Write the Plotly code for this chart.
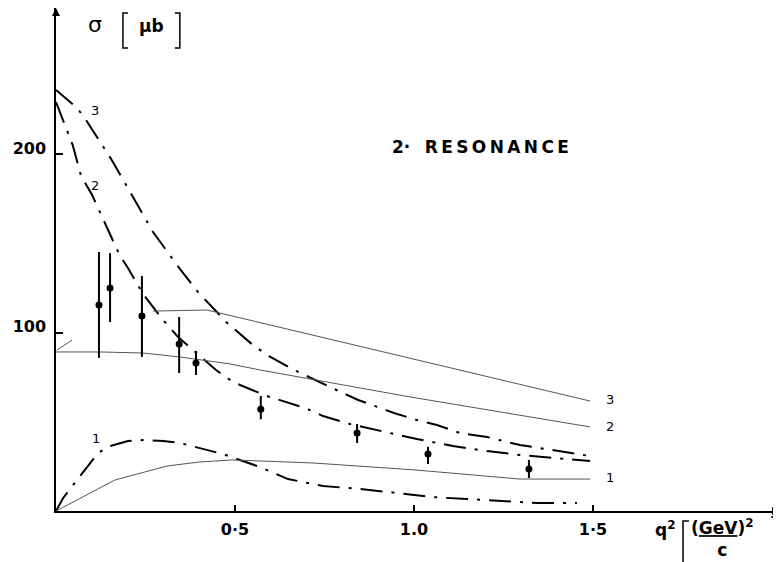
import plotly.graph_objects as go

# ---------------- data ----------------
pts_x = [0.120, 0.151, 0.240, 0.344, 0.391, 0.572, 0.841, 1.039, 1.321]
pts_y = [115.4, 124.9, 109.2, 93.6, 82.9, 57.0, 43.7, 31.9, 23.5]
pts_up = [29.7, 19.6, 22.5, 15.1, 6.7, 7.4, 5.0, 4.0, 5.1]
pts_dn = [29.7, 19.0, 22.9, 16.3, 6.7, 5.6, 5.6, 5.6, 5.0]

c3_x = [0, .059, .084, .154, .204, .271, .346, .399, .444, .475, .550, .595, .659,
        .715, .765, .844, .899, .953, 1.008, 1.064, 1.128, 1.204, 1.249, 1.296, 1.492]
c3_y = [235.9, 225.8, 219.0, 197.2, 179.8, 156.3, 135.6, 122.1, 112.6, 105.9, 93.0, 86.8,
        79.6, 74.5, 69.5, 62.2, 58.3, 54.3, 51.0, 48.2, 43.7, 41.5, 39.2, 37.0, 30.8]

c2_x = [0, .047, .070, .101, .176, .201, .243, .299, .341, .377, .447, .494, .550, .589,
        .696, .746, .821, .919, 1.008, 1.109, 1.204, 1.296, 1.492]
c2_y = [229.1, 204.8, 187.7, 177.0, 144.0, 136.1, 121.6, 107.0, 97.5, 91.3, 79.0, 72.3,
        67.8, 64.4, 57.7, 53.2, 48.7, 44.3, 40.3, 36.4, 33.6, 31.4, 28.0]

c1_x = [0, .020, .089, .117, .151, .201, .249, .299, .346, .402, .466, .570, .648, .746,
        .849, .953, 1.050, 1.148, 1.246, 1.344, 1.455]
c1_y = [0, 7.3, 25.2, 32.5, 36.4, 39.2, 39.8, 39.2, 38.1, 35.3, 31.9, 24.6, 17.9, 14.0,
        12.3, 10.1, 7.8, 6.7, 5.6, 4.5, 4.5]

t3_x = [.271, .422, 1.492]
t3_y = [112.0, 112.6, 61.6]

t2_x = [0, .123, .243, .346, .486, .570, .989, 1.492]
t2_y = [89.1, 89.1, 88.5, 86.3, 82.4, 79.0, 63.9, 47.1]

t2s_x = [0.003, 0.045]
t2s_y = [90.2, 95.8]

t1_x = [0, .165, .310, .402, .494, .718, 1.003, 1.296, 1.492]
t1_y = [0, 17.4, 25.2, 27.5, 28.6, 26.9, 23.0, 17.9, 17.9]

x_tickvals = [0.5, 1.0, 1.5]
x_ticktext = ["0·5", "1.0", "1·5"]
y_tickvals = [100, 200]
y_ticktext = ["100", "200"]

# The page body has an 8px margin, so the figure is sized/positioned to compensate.
X_MAX = 2.0223
Y_MAX = 281.8

DASHDOT = "22px,9px,3px,9px"
THIN = "#555555"

fig = go.Figure()
for xs, ys in [(c3_x, c3_y), (c2_x, c2_y), (c1_x, c1_y)]:
    fig.add_trace(go.Scatter(x=xs, y=ys, mode="lines",
                             line=dict(color="black", width=2, dash=DASHDOT),
                             hoverinfo="skip", showlegend=False))
for xs, ys in [(t3_x, t3_y), (t2_x, t2_y), (t2s_x, t2s_y), (t1_x, t1_y)]:
    fig.add_trace(go.Scatter(x=xs, y=ys, mode="lines",
                             line=dict(color=THIN, width=1),
                             hoverinfo="skip", showlegend=False))
fig.add_trace(go.Scatter(
    x=pts_x, y=pts_y, mode="markers",
    marker=dict(color="black", size=7),
    error_y=dict(type="data", symmetric=False, array=pts_up, arrayminus=pts_dn,
                 color="black", thickness=2, width=0),
    showlegend=False))

# axis arrowheads (tip at the end of each axis)
fig.add_trace(go.Scatter(x=[0], y=[Y_MAX], mode="markers", cliponaxis=False,
                         marker=dict(symbol="arrow-up", size=8, color="black",
                                     line=dict(width=0)),
                         hoverinfo="skip", showlegend=False))
fig.add_trace(go.Scatter(x=[X_MAX], y=[0], mode="markers", cliponaxis=False,
                         marker=dict(symbol="arrow-right", size=8, color="black",
                                     line=dict(width=0)),
                         hoverinfo="skip", showlegend=False))

tickfont = dict(family="DejaVu Sans", size=16, color="black", weight="bold")
fig.update_xaxes(range=[0, X_MAX], showline=True, linecolor="black", linewidth=2,
                 showgrid=False, zeroline=False, ticks="inside", ticklen=6,
                 tickwidth=1.5, tickcolor="black", tickvals=x_tickvals,
                 ticktext=x_ticktext, tickfont=tickfont, ticklabelstandoff=3)
fig.update_yaxes(range=[0, Y_MAX], showline=True, linecolor="black", linewidth=1.5,
                 showgrid=False, zeroline=False, ticks="inside", ticklen=7,
                 tickwidth=1.5, tickcolor="black", tickvals=y_tickvals,
                 ticktext=y_ticktext, tickfont=tickfont, ticklabelshift=-6,
                 ticklabelstandoff=5)

ann = []
lblfont = dict(family="DejaVu Sans", size=13, color="black")
for t, xx, yy in [("3", .109, 224.6), ("2", .109, 182.6), ("1", .112, 40.9),
                  ("3", 1.547, 62.2), ("2", 1.547, 47.1), ("1", 1.547, 18.5)]:
    ann.append(dict(x=xx, y=yy, xref="x", yref="y", text=t, showarrow=False,
                    xanchor="center", yanchor="middle", font=lblfont))

ann.append(dict(x=1.185, y=203.9, xref="x", yref="y",
                text="2·\u2002 R\u2009E\u2009S\u2009O\u2009N\u2009A\u2009N\u2009C\u2009E",
                showarrow=False, xanchor="center", yanchor="middle",
                font=dict(family="DejaVu Sans", size=17, color="black", weight="bold")))

# y-axis label  σ [μb]
ann.append(dict(x=.109, y=272.3, xref="x", yref="y", text="σ", showarrow=False,
                xanchor="center", yanchor="middle",
                font=dict(family="DejaVu Sans", size=22, color="black")))
ann.append(dict(x=.268, y=271.7, xref="x", yref="y", text="μb", showarrow=False,
                xanchor="center", yanchor="middle",
                font=dict(family="DejaVu Sans", size=17, color="black", weight="bold")))

# x-axis label  q² [(GeV/c)²]  (window px -> paper: x (px-56)/724, y (511-py)/503)
def px(xp):
    return (xp - 56) / 724.0

def py(yp):
    return (511 - yp) / 503.0

labfont = dict(family="DejaVu Sans", size=17, color="black", weight="bold")
ann.append(dict(x=px(665), y=py(529), xref="paper", yref="paper", text="q<sup>2</sup>",
                showarrow=False, xanchor="center", yanchor="middle", font=labfont))
ann.append(dict(x=px(722), y=py(561), xref="paper", yref="paper",
                text="(<u>GeV</u>)<sup>2</sup><br>c", showarrow=False, align="center",
                xanchor="center", yanchor="bottom", borderpad=0, font=labfont))
fig.update_layout(annotations=ann)

# brackets
shapes = []
def bracket(x0, x1, y0, y1, ref):
    xr, yr = ref
    shapes.append(dict(type="path", xref=xr, yref=yr,
                       path=f"M {x1},{y0} L {x0},{y0} L {x0},{y1} L {x1},{y1}",
                       line=dict(color="black", width=1.5)))
bracket(.187, .201, 279.0, 259.4, ("x", "y"))
bracket(.346, .332, 279.0, 259.4, ("x", "y"))
bracket(px(683), px(689), py(521), py(566), ("paper", "paper"))
bracket(px(777), px(771), py(517), py(566), ("paper", "paper"))
fig.update_layout(shapes=shapes)

fig.update_layout(width=773, height=554, margin=dict(l=48, r=1, t=0, b=51),
                  paper_bgcolor="white", plot_bgcolor="white", showlegend=False)

fig.write_html("out.html")
